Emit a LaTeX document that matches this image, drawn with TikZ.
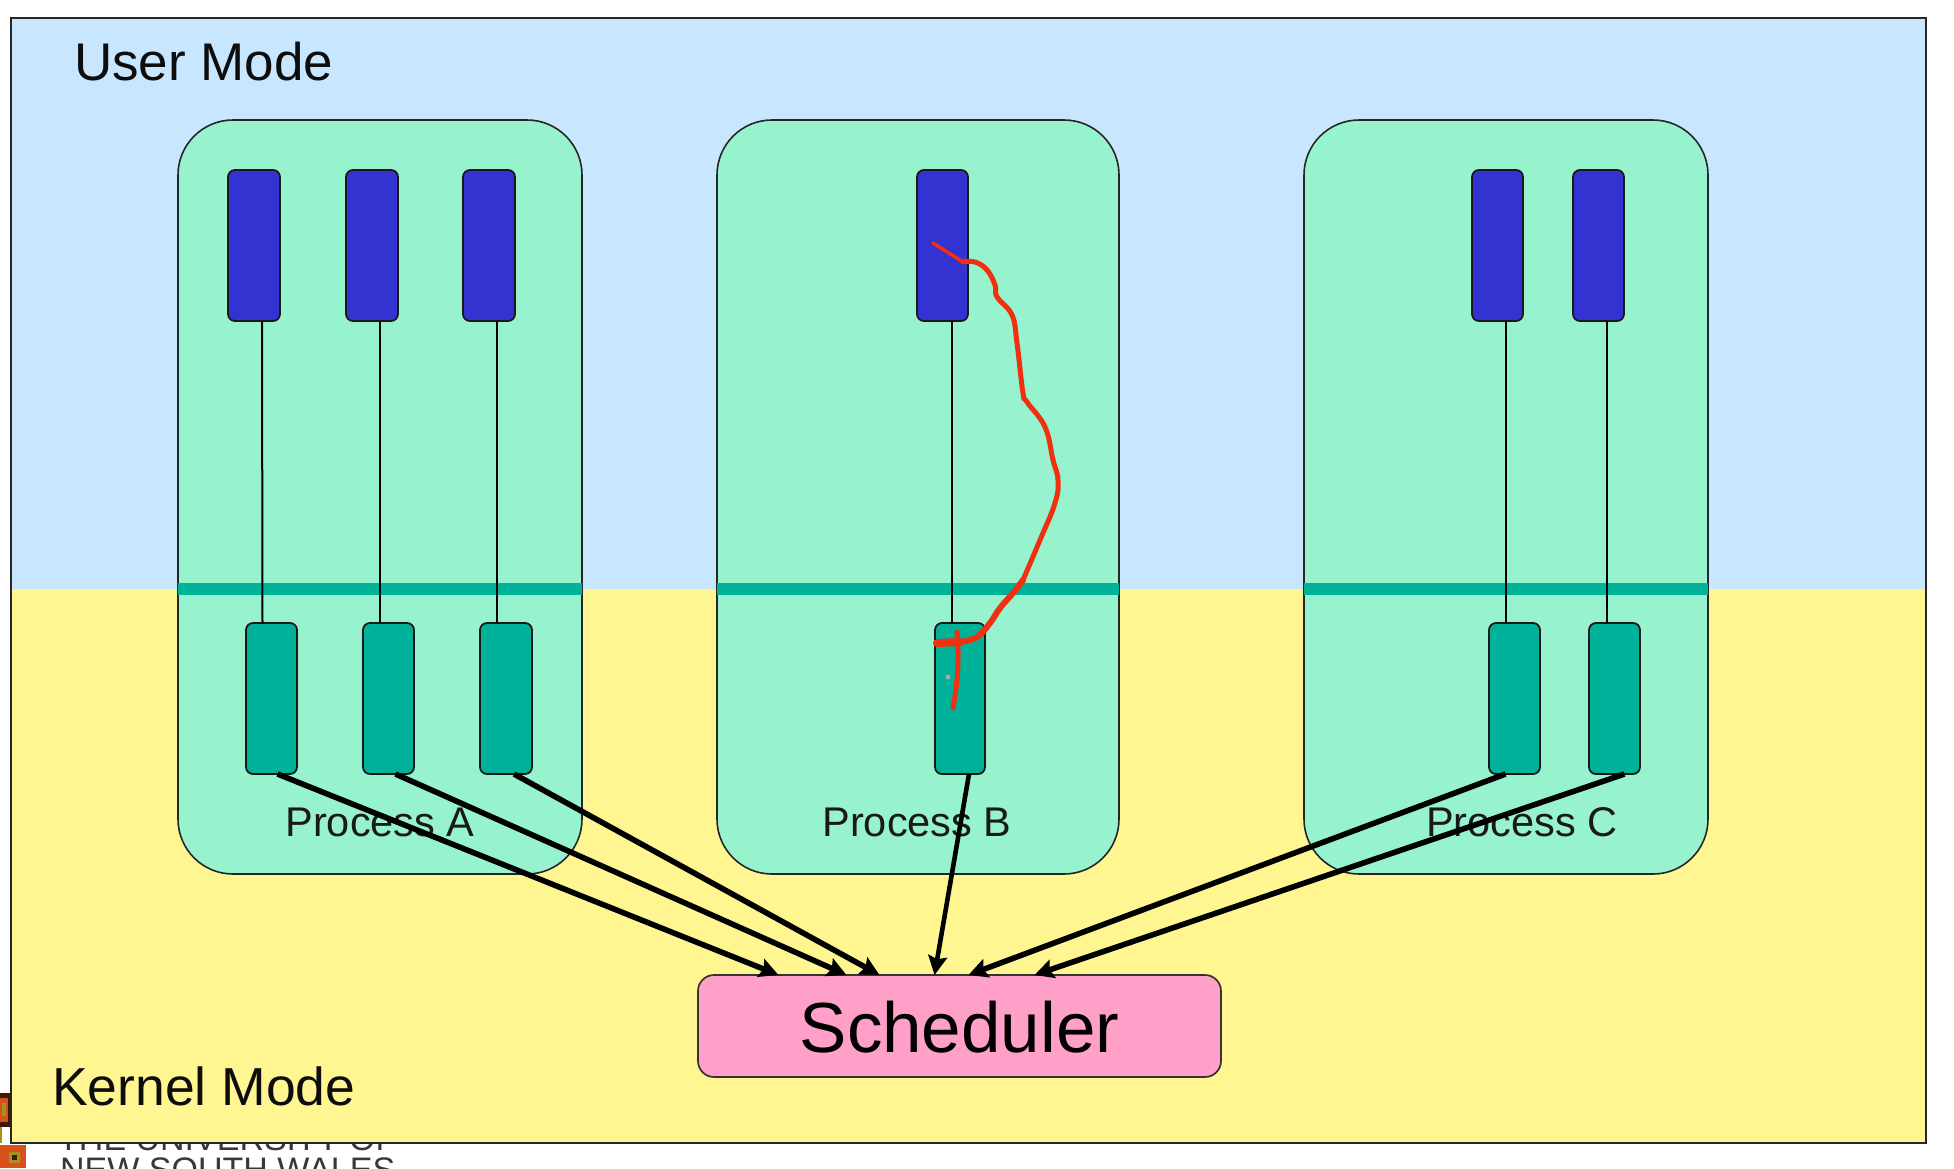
\documentclass[tikz,border=0pt]{standalone}
\usepackage{fontspec}
\setmainfont{Liberation Sans}
\usetikzlibrary{arrows.meta}
\definecolor{userbg}{HTML}{C8E6FE}
\definecolor{kernbg}{HTML}{FFF691}
\definecolor{procbg}{HTML}{96F3CD}
\definecolor{ublue}{HTML}{3333D2}
\definecolor{kteal}{HTML}{00B299}
\definecolor{pinkb}{HTML}{FFA0C8}
\definecolor{inkred}{HTML}{F03010}
\definecolor{logored}{HTML}{D8501A}
\definecolor{logodark}{HTML}{3A1A08}
\definecolor{logogold}{HTML}{A89020}
\definecolor{uni}{HTML}{383838}
\newcommand{\fsz}[1]{\fontsize{#1}{#1}\selectfont}
\newcommand{\rbox}[7]{% style,name,x1,y1,x2,y2,text
  \pgfmathsetlengthmacro{\bw}{(#5-#3)*1pt}\pgfmathsetlengthmacro{\bh}{(#6-#4)*1pt}
  \node[#1,anchor=north west,minimum width=\bw,minimum height=\bh,inner sep=0pt,outer sep=0pt] (#2) at (#3,#4) {#7};}
\tikzset{
  x=1pt,y=-1pt,
  region/.style={draw=none},
  frame/.style={draw=black!85,line width=1.9pt},
  procbox/.style={draw=black!85,fill=procbg,line width=1.6pt,rounded corners=55pt},
  threadbox/.style={draw=black!90,fill=ublue,line width=1.8pt,rounded corners=7pt},
  kernbox/.style={draw=black!90,fill=kteal,line width=1.8pt,rounded corners=7pt},
  schedbox/.style={draw=black!80,fill=pinkb,line width=1.7pt,rounded corners=16pt,font=\fsz{71},text depth=0pt},
  link/.style={black,line width=2pt},
  sched/.style={black,line width=5.6pt,-{Stealth[length=19pt,width=19pt,inset=3pt]}},
  band/.style={kteal,line width=12pt},
  lab/.style={anchor=base,inner sep=0pt,font=\fsz{41.5},text=black!90},
  modelab/.style={anchor=base west,inner sep=0pt,text=black!95},
  ink/.style={inkred,line cap=round,line join=round},
  unitext/.style={anchor=base west,inner sep=0pt,text=uni,font=\fsz{34}},
}
\begin{document}
\begin{tikzpicture}
\useasboundingbox (0,0) rectangle (1954,1168);
\clip (0,0) rectangle (1954,1168);
% logo remnants
\fill[logored] (0,1145) rectangle (26,1168);
\fill[logogold] (9,1152) rectangle (20,1163);
\fill[logodark] (12,1155) rectangle (17,1160);
\fill[logodark] (0,1093) rectangle (11,1127);
\fill[logored] (0,1098) rectangle (8,1122);
\fill[logogold] (2,1103) rectangle (6,1116);
\fill[logogold] (0,1127) rectangle (2,1143);
\node[unitext] (unitop) at (58,1150) {THE UNIVERSITY OF};
\node[unitext] (unibot) at (60,1181) {NEW SOUTH WALES};
% regions
\rbox{region,fill=userbg}{user}{11}{18}{1926}{589}{}
\rbox{region,fill=kernbg}{kernel}{11}{589}{1926}{1143}{}
\draw[frame] (user.north west) rectangle (kernel.south east);
\node[modelab,font=\fsz{53}] (usermode) at (74,80) {User Mode};
\node[modelab,font=\fsz{53.5}] (kernelmode) at (52,1105) {Kernel Mode};
% processes
\rbox{procbox}{pa}{178}{120}{582}{874}{}
\rbox{procbox}{pb}{717}{120}{1119}{874}{}
\rbox{procbox}{pc}{1304}{120}{1708}{874}{}
\draw[band] (pa.west |- 0,589) -- (pa.east |- 0,589);
\draw[band] (pb.west |- 0,589) -- (pb.east |- 0,589);
\draw[band] (pc.west |- 0,589) -- (pc.east |- 0,589);
\node[lab] (la) at (380,836) {Process A};
\node[lab] (lb) at (917,836) {Process B};
\node[lab] (lc) at (1522,836) {Process C};
% user threads
\rbox{threadbox}{ua}{228}{170}{280}{321}{}
\rbox{threadbox}{ub}{346}{170}{398}{321}{}
\rbox{threadbox}{uc}{463}{170}{515}{321}{}
\rbox{threadbox}{ud}{917}{170}{968}{321}{}
\rbox{threadbox}{ue}{1472}{170}{1523}{321}{}
\rbox{threadbox}{uf}{1573}{170}{1624}{321}{}
% kernel threads
\rbox{kernbox}{ka}{246}{623}{297}{774}{}
\rbox{kernbox}{kb}{363}{623}{414}{774}{}
\rbox{kernbox}{kc}{480}{623}{532}{774}{}
\rbox{kernbox}{kd}{935}{623}{985}{774}{}
\rbox{kernbox}{ke}{1489}{623}{1540}{774}{}
\rbox{kernbox}{kf}{1589}{623}{1640}{774}{}
% links
\draw[link] ([xshift=8pt]ua.south) -- ([xshift=-9pt]ka.north);
\draw[link] ([xshift=8pt]ub.south) -- ([xshift=-8.5pt]kb.north);
\draw[link] ([xshift=8pt]uc.south) -- ([xshift=-9pt]kc.north);
\draw[link] ([xshift=9.5pt]ud.south) -- ([xshift=-8pt]kd.north);
\draw[link] ([xshift=8.5pt]ue.south) -- ([xshift=-8.5pt]ke.north);
\draw[link] ([xshift=8.5pt]uf.south) -- ([xshift=-7.5pt]kf.north);
% scheduler
\rbox{schedbox}{sch}{698}{975}{1221}{1077}{\raisebox{-2pt}{Scheduler}}
\draw[sched] ([xshift=6pt]ka.south) -- ([xshift=-181pt]sch.north);
\draw[sched] ([xshift=7pt]kb.south) -- ([xshift=-113pt]sch.north);
\draw[sched] ([xshift=8pt]kc.south) -- ([xshift=-80pt]sch.north);
\draw[sched,line width=4.6pt] ([xshift=9pt]kd.south) -- ([xshift=-25pt]sch.north);
\draw[sched] ([xshift=-9pt]ke.south) -- ([xshift=9pt]sch.north);
\draw[sched] ([xshift=10pt]kf.south) -- ([xshift=75pt]sch.north);
% hand-drawn ink
\draw[ink,line width=3.5pt] (933,243) -- (963,262);
\draw[ink,line width=5pt] plot[smooth,tension=0.7] coordinates {(963,262) (975,262) (987,270) (995,285) (997,297) (1012,315) (1017,343) (1023,393) (1027,402) (1045,427) (1053,460) (1058,480) (1055,503) (1040,540) (1023,580)};
\draw[ink,line width=6pt] plot[smooth,tension=0.7] coordinates {(1023,580) (1013,593) (1000,608) (990,623) (977,637) (960,642)};
\draw[ink,line width=8pt] (960,642) -- (937,643);
\draw[ink,line width=5pt] plot[smooth,tension=0.7] coordinates {(957,632) (958,653) (957,680) (953,708)};
\fill[black!35] (948,677) circle (2.5pt);
\end{tikzpicture}
\end{document}
